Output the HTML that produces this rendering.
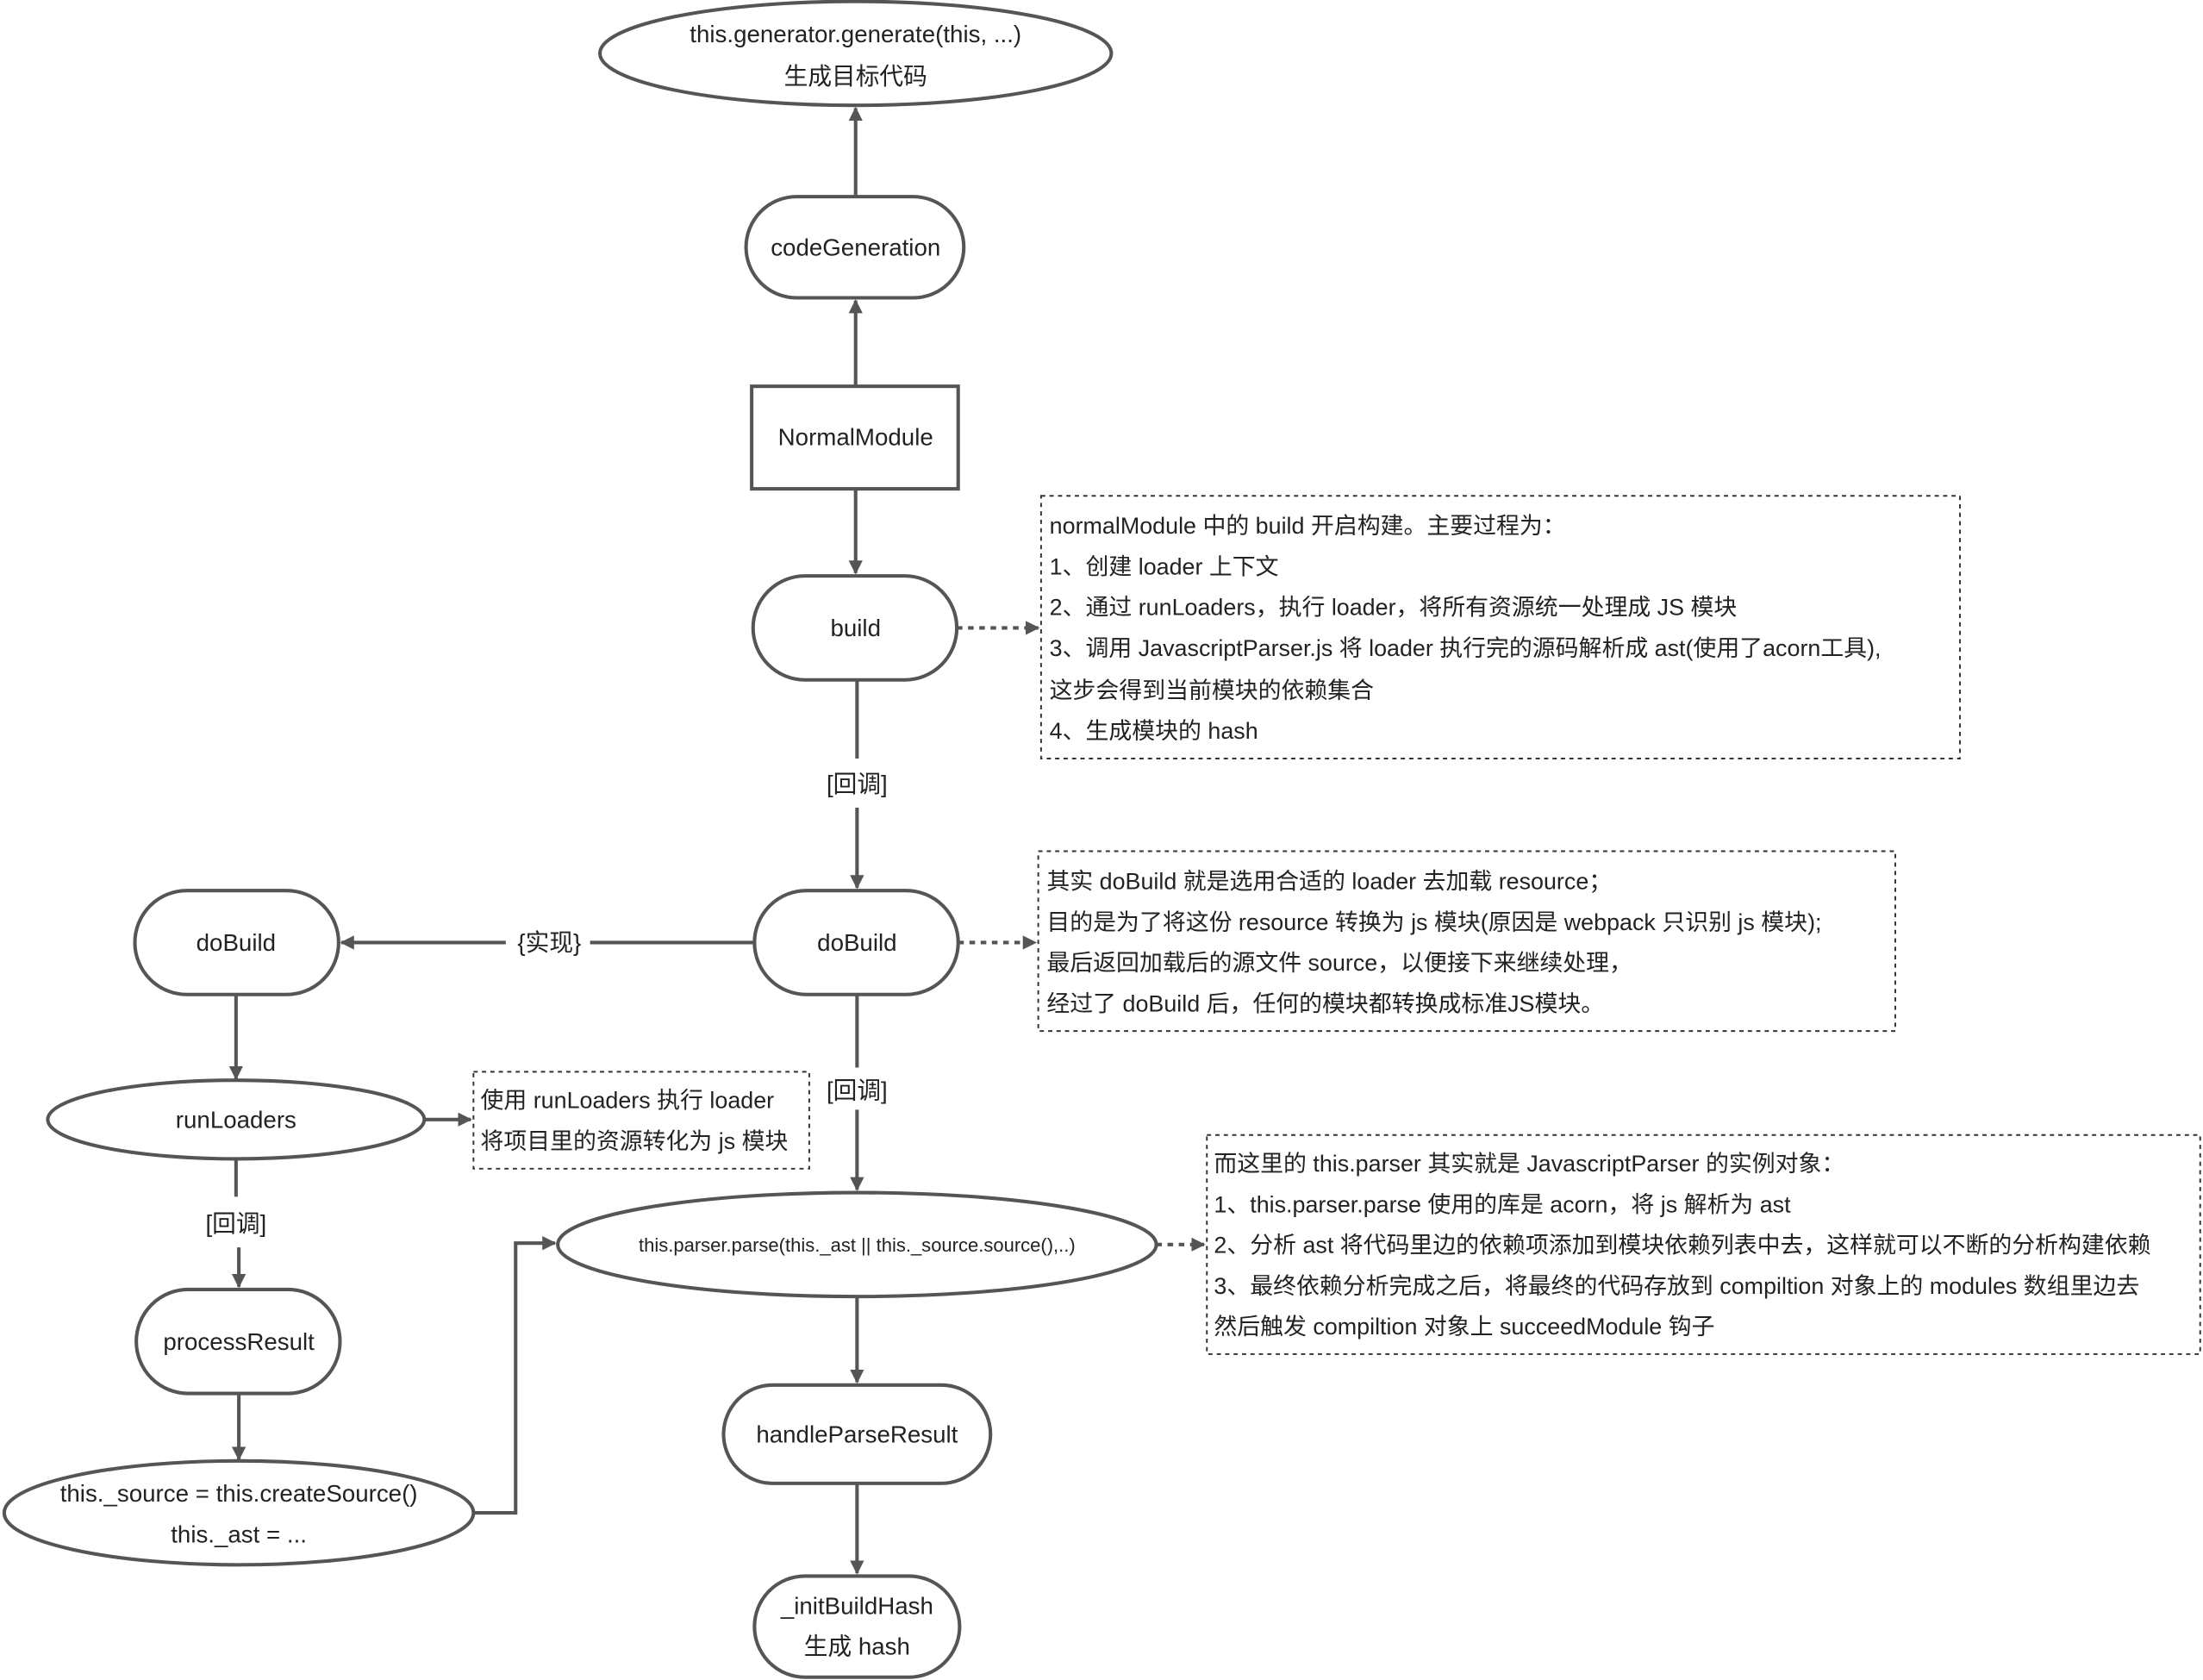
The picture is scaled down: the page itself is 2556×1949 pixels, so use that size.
<!DOCTYPE html>
<html><head><meta charset="utf-8"><style>
html,body{margin:0;padding:0;background:#fff;}
svg{display:block;}
text{font-family:"Liberation Sans","Noto Sans CJK SC",sans-serif;fill:#222;}
</style></head><body>
<svg width="2556" height="1949" viewBox="0 0 1568 1196" preserveAspectRatio="none" xmlns="http://www.w3.org/2000/svg">
<defs>
<marker id="a" markerWidth="10" markerHeight="10" refX="9" refY="5" orient="auto" markerUnits="userSpaceOnUse"><path d="M0,0 L10,5 L0,10 z" fill="#555"/></marker>
</defs>
<g fill="#fff" stroke="#555" stroke-width="2.5">
<ellipse cx="609" cy="38" rx="182" ry="37"/>
<rect x="531" y="140" width="155" height="72" rx="36"/>
<rect x="535" y="275" width="147" height="73"/>
<rect x="536" y="410" width="145" height="74" rx="37"/>
<rect x="537" y="634" width="145" height="74" rx="37"/>
<rect x="96" y="634" width="145" height="74" rx="37"/>
<ellipse cx="168" cy="797" rx="134" ry="28"/>
<rect x="97" y="918" width="145" height="74" rx="37"/>
<ellipse cx="170" cy="1077" rx="167" ry="37"/>
<ellipse cx="610" cy="886" rx="213" ry="37"/>
<rect x="515" y="986" width="190" height="70" rx="35"/>
<rect x="537" y="1122" width="146" height="72" rx="36"/>
</g>
<g fill="none" stroke="#333" stroke-width="1.2" stroke-dasharray="3,3">
<rect x="741" y="353" width="654" height="187"/>
<rect x="739" y="606" width="610" height="128"/>
<rect x="337" y="763" width="239" height="69"/>
<rect x="859" y="808" width="707" height="156"/>
</g>
<g fill="none" stroke="#555" stroke-width="2.5" marker-end="url(#a)">
<line x1="609" y1="140" x2="609" y2="77"/>
<line x1="609" y1="275" x2="609" y2="214"/>
<line x1="609" y1="348" x2="609" y2="408"/>
<line x1="610" y1="575" x2="610" y2="632"/>
<line x1="360" y1="671" x2="243" y2="671"/>
<line x1="610" y1="790" x2="610" y2="847"/>
<line x1="168" y1="708" x2="168" y2="768"/>
<line x1="302" y1="797" x2="335" y2="797"/>
<line x1="170" y1="888" x2="170" y2="916"/>
<line x1="170" y1="992" x2="170" y2="1039"/>
<polyline points="337,1077 367,1077 367,885 395,885"/>
<line x1="610" y1="922" x2="610" y2="984"/>
<line x1="610" y1="1056" x2="610" y2="1120"/>
</g>
<g fill="none" stroke="#555" stroke-width="2.5">
<line x1="610" y1="484" x2="610" y2="540"/>
<line x1="537" y1="671" x2="420" y2="671"/>
<line x1="610" y1="708" x2="610" y2="760"/>
<line x1="168" y1="825" x2="168" y2="852"/>
</g>
<g fill="none" stroke="#555" stroke-width="2.5" stroke-dasharray="4,4" marker-end="url(#a)">
<line x1="681" y1="447" x2="739" y2="447"/>
<line x1="682" y1="671" x2="737" y2="671"/>
<line x1="823" y1="886" x2="857" y2="886"/>
</g>
<g font-size="17" text-anchor="middle">
<text x="609" y="30">this.generator.generate(this, ...)</text>
<text x="609" y="60">生成目标代码</text>
<text x="609" y="182">codeGeneration</text>
<text x="609" y="317">NormalModule</text>
<text x="609" y="453">build</text>
<text x="610" y="564">[回调]</text>
<text x="610" y="677">doBuild</text>
<text x="391" y="677">{实现}</text>
<text x="168" y="677">doBuild</text>
<text x="610" y="782">[回调]</text>
<text x="168" y="803">runLoaders</text>
<text x="168" y="877">[回调]</text>
<text x="170" y="961">processResult</text>
<text x="170" y="1069">this._source = this.createSource()</text>
<text x="170" y="1098">this._ast = ...</text>
<text x="610" y="891" font-size="13.5">this.parser.parse(this._ast || this._source.source(),..)</text>
<text x="610" y="1027">handleParseResult</text>
<text x="610" y="1149">_initBuildHash</text>
<text x="610" y="1178">生成 hash</text>
</g>
<g font-size="16.5">
<text x="747" y="380">normalModule 中的 build 开启构建。主要过程为：</text>
<text x="747" y="409">1、创建 loader 上下文</text>
<text x="747" y="438">2、通过 runLoaders，执行 loader，将所有资源统一处理成 JS 模块</text>
<text x="747" y="467">3、调用 JavascriptParser.js 将 loader 执行完的源码解析成 ast(使用了acorn工具),</text>
<text x="747" y="497">这步会得到当前模块的依赖集合</text>
<text x="747" y="526">4、生成模块的 hash</text>
<text x="745" y="633">其实 doBuild 就是选用合适的 loader 去加载 resource；</text>
<text x="745" y="662">目的是为了将这份 resource 转换为 js 模块(原因是 webpack 只识别 js 模块);</text>
<text x="745" y="691">最后返回加载后的源文件 source，以便接下来继续处理，</text>
<text x="745" y="720">经过了 doBuild 后，任何的模块都转换成标准JS模块。</text>
<text x="342" y="789">使用 runLoaders 执行 loader</text>
<text x="342" y="818">将项目里的资源转化为 js 模块</text>
<text x="864" y="834">而这里的 this.parser 其实就是 JavascriptParser 的实例对象：</text>
<text x="864" y="863">1、this.parser.parse 使用的库是 acorn，将 js 解析为 ast</text>
<text x="864" y="892">2、分析 ast 将代码里边的依赖项添加到模块依赖列表中去，这样就可以不断的分析构建依赖</text>
<text x="864" y="921">3、最终依赖分析完成之后，将最终的代码存放到 compiltion 对象上的 modules 数组里边去</text>
<text x="864" y="950">然后触发 compiltion 对象上 succeedModule 钩子</text>
</g>
</svg>
</body></html>
